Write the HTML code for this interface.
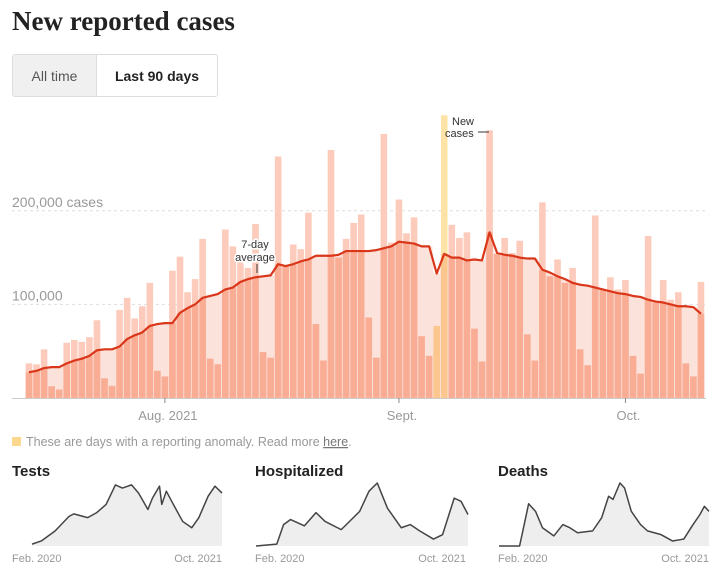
<!DOCTYPE html>
<html><head><meta charset="utf-8">
<style>
body{margin:0;background:#fff;width:720px;height:573px;overflow:hidden;font-family:"Liberation Sans",sans-serif;}
#title{position:absolute;left:12px;top:6px;font-family:"Liberation Serif",serif;font-weight:bold;font-size:27px;color:#222;margin:0;}
#toggle{position:absolute;left:12px;top:54px;width:204px;height:41px;border:1px solid #ddd;border-radius:3px;display:flex;overflow:hidden;}
#toggle div{display:flex;align-items:center;justify-content:center;font-size:14px;}
.sp{position:absolute;top:463px;font-family:"Liberation Sans Narrow","Liberation Sans",sans-serif;font-weight:bold;font-size:15px;color:#222;}
</style></head><body>
<h1 id="title">New reported cases</h1>
<div id="toggle">
 <div style="width:83px;background:#f0f0f0;color:#555;border-right:1px solid #ddd;">All time</div>
 <div style="flex:1;font-weight:bold;color:#222;">Last 90 days</div>
</div>
<svg id="main" width="720" height="573" style="position:absolute;left:0;top:0"></svg>
<div class="sp" style="left:12px">Tests</div>
<div class="sp" style="left:255px">Hospitalized</div>
<div class="sp" style="left:498px">Deaths</div>
<script>
const cases=[37,36,52,12.5,9,59,62,60,65,83,21,13,94,107,85,98,123,29,23,136,151,113,127,170,42,36,180,162,146,139,
186,49,43,258,141,164,159,198,79,40,265,150,170,187,
196,86,43,282,166,212,176,193,66,45,77,302,185,171,177,74,39,286,154,171,155,168,68,40,209,130,148,123,139,52,35,195,116,129,116,126,45,26,173,102,126,105,113,37,23,124];
const avg=[27.5,29,32,33,33,37,40,42,45,51,52,52,55,63,67,70,77,79,80,80,91,96,100,107,109,111,116,118,124,127,
129,130,131,143,141,143,146,148,152,152,152,153,157,157,157,157,158,160,162,167,166,165,162,162,133,154,150,150,147,148,
147,177,155,153,152,150,149,149,137,134,130,127,123,121,120,118,116,114,112,111,109,108,105,103,102,100,98,98,97,90];
const anomalies=[54,55];
const yTicks=[100,200];
const yTickLabels=["100,000","200,000 cases"];
const xTickIdx=[18,49,79];
const xTickLabels=["Aug. 2021","Sept.","Oct."];
const testsX=[0,4.9,12.2,19.5,22,29.3,34.1,39,43.9,47.6,52.4,56.1,61,63.4,67.1,68.3,70.7,74.4,79.3,84.1,87.8,92.7,96.3,100];
const testsV=[3,8,24,47,51,45,53,66,97,92,97,84,58,76,95,66,87,66,39,29,45,79,95,84];
const hospX=[0,9.8,13,16.3,22.8,28.3,32.6,40.2,48.9,53.3,57.2,62,68.5,72.8,77.2,83.7,88,93.5,96.7,100];
const hospV=[0,3,34,42,32,53,39,26,55,87,100,60,29,34,24,11,18,76,71,50];
const deathsX=[0,9.8,12,14.1,17.4,20.7,26.1,30.4,33.7,37.4,44.6,48.9,52.2,54.3,57.6,59.8,63,67.4,70.7,77.2,82.6,88,92.4,95.7,97.8,100];
const deathsV=[0,0,34,67,55,29,16,34,29,21,24,45,79,74,100,92,55,34,24,18,8,11,34,50,63,55];

const NS="http://www.w3.org/2000/svg";
const svg=document.getElementById('main');
function mk(t,a,p){const e=document.createElementNS(NS,t);for(const k in a)e.setAttribute(k,a[k]);(p||svg).appendChild(e);return e;}
const x0=29,step=7.55,bw=6.6,base=398,k=0.936;
const X=i=>x0+i*step, Y=v=>base-v*k;
yTicks.forEach((t,j)=>{
 const g=mk('line',{x1:12,x2:705,y1:Y(t),y2:Y(t),stroke:'#ddd','stroke-dasharray':'3,3'});
 
 
 const tx=mk('text',{x:12,y:Y(t)-4,'font-size':14,fill:'#999'});
 tx.textContent=yTickLabels[j];
 
 
});
let ad='M'+(X(0)-bw/2)+','+base;
avg.forEach((v,i)=>{ad+=' L'+(X(i)-bw/2)+','+Y(v)+' L'+(X(i)+bw/2)+','+Y(v);});
ad+=' L'+(X(avg.length-1)+bw/2)+','+base+'Z';
const area=mk('path',{d:ad,fill:'#fbe2da'});


cases.forEach((v,i)=>{
 const an=anomalies.includes(i);
 const b=mk('rect',{x:X(i)-bw/2,y:Y(v),width:bw,height:v*k,fill:an?'#fde3a6':'#fccbbb'});
 
 
 const m=Math.min(v,avg[i]);
 const d=mk('rect',{x:X(i)-bw/2,y:Y(m),width:bw,height:m*k,fill:an?'#fbc78e':'#f9ad95'});
 
 
});
const ln=mk('path',{d:avg.map((v,i)=>(i?'L':'M')+X(i)+','+Y(v)).join(' '),fill:'none',stroke:'#d9361a','stroke-width':2.2,'stroke-linejoin':'round'});


const ax=mk('line',{x1:12,x2:706,y1:base+0.5,y2:base+0.5,stroke:'#ccc'});


xTickIdx.forEach((ix,j)=>{
 const t=mk('line',{x1:X(ix),x2:X(ix),y1:base,y2:base+5,stroke:'#888'});
 
 
 const tx=mk('text',{x:X(ix)+3,y:base+22,'font-size':13,fill:'#999','text-anchor':'middle'});
 tx.textContent=xTickLabels[j];
 
 
});
function lab(txt,x,y,n){const t=mk('text',{x:x,y:y,'font-size':11,fill:'#333','text-anchor':'middle',stroke:'#fff','stroke-width':3,'paint-order':'stroke'});t.textContent=txt;}
lab('7-day',255,248,'avg-annotation');lab('average',255,261,'avg-annotation');
const al=mk('line',{x1:257,x2:257,y1:264,y2:273,stroke:'#333'});


const nt=mk('text',{x:452,y:125,'font-size':11,fill:'#333'});nt.textContent='New';


const nt2=mk('text',{x:445,y:137,'font-size':11,fill:'#333'});nt2.textContent='cases';


const nl=mk('line',{x1:478,x2:489,y1:132,y2:132,stroke:'#333'});


const lg=mk('rect',{x:12,y:437,width:9,height:9,fill:'#fcd88e'});


const lt=mk('text',{x:26,y:446,'font-size':12.5,fill:'#999'});
lt.innerHTML='These are days with a reporting anomaly. Read more <tspan text-decoration="underline" fill="#777">here</tspan>.';


function spark(xs,vs,left,w,labelLeft,labelRight,name){
 const top=483,bot=546,h=bot-top;
 const px=f=>left+f/100*w, py=v=>bot-v/100*h;
 let d=xs.map((f,i)=>(i?'L':'M')+px(f)+','+py(vs[i])).join(' ');
 const a=mk('path',{d:d+' L'+px(xs[xs.length-1])+','+bot+' L'+px(xs[0])+','+bot+'Z',fill:'#eee'});
 
 
 const l=mk('path',{d:d,fill:'none',stroke:'#444','stroke-width':1.5,'stroke-linejoin':'round'});
 
 
 const t1=mk('text',{x:labelLeft,y:562,'font-size':11,fill:'#999','font-family':'Liberation Sans Narrow, Liberation Sans, sans-serif'});t1.textContent='Feb. 2020';
 
 
 const t2=mk('text',{x:labelRight,y:562,'font-size':11,fill:'#999','text-anchor':'end','font-family':'Liberation Sans Narrow, Liberation Sans, sans-serif'});t2.textContent='Oct. 2021';
 
 
}
spark(testsX,testsV,32,190,12,222,'tests-sparkline');
spark(hospX,hospV,256,212,255,466,'hospitalized-sparkline');
spark(deathsX,deathsV,499,210,498,709,'deaths-sparkline');
</script>
</body></html>
